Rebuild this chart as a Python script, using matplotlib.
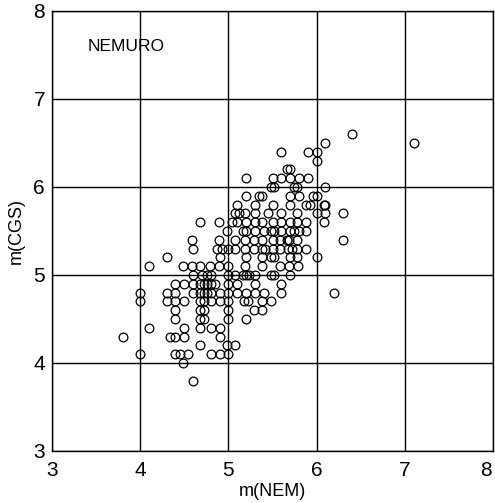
import matplotlib
matplotlib.use("Agg")
import matplotlib.pyplot as plt
import matplotlib.transforms as mtransforms

# magnitude levels on the CGS scale (rows of the scatter)
cgs_levels = [6.6, 6.5, 6.4, 6.3, 6.2, 6.1, 6.0, 5.9, 5.8, 5.7, 5.6, 5.5, 5.4, 5.3,
              5.2, 5.1, 5.0, 4.9, 4.8, 4.7, 4.6, 4.5, 4.4, 4.3, 4.2, 4.1, 4.0, 3.8]

# Nemuro magnitudes for the events at each CGS level
nem_by_level = [
    [6.4],
    [6.1, 7.1],
    [5.6, 5.9, 6.0],
    [6.0],
    [5.66, 5.7],
    [5.2, 5.5, 5.6, 5.7, 5.8, 5.9],
    [5.48, 5.52, 5.74, 5.78, 6.1],
    [5.2, 5.35, 5.38, 5.7, 5.8, 5.96, 6.0],
    [5.1, 5.3, 5.5, 5.7, 5.88, 5.92, 6.08, 6.1],
    [5.08, 5.12, 5.19, 5.3, 5.45, 5.6, 5.78, 6.0, 6.1, 6.3],
    [4.68, 4.89, 5.04, 5.1, 5.2, 5.3, 5.38, 5.5, 5.6, 5.7, 5.78, 5.88, 6.08],
    [4.98, 5.17, 5.2, 5.3, 5.4, 5.48, 5.52, 5.6, 5.7, 5.74, 5.8, 5.88],
    [4.59, 4.89, 5.08, 5.19, 5.29, 5.38, 5.5, 5.59, 5.66, 5.69, 5.78, 6.3],
    [4.6, 4.87, 4.93, 5.0, 5.08, 5.19, 5.29, 5.38, 5.42, 5.5, 5.59, 5.68, 5.72, 5.78, 5.88],
    [4.3, 4.9, 5.2, 5.38, 5.48, 5.52, 5.7, 5.78, 6.0],
    [4.1, 4.48, 4.59, 4.68, 4.79, 4.89, 5.0, 5.19, 5.38, 5.59, 5.69, 5.79],
    [4.6, 4.7, 4.76, 4.8, 5.0, 5.08, 5.17, 5.2, 5.23, 5.3, 5.48, 5.52, 5.7],
    [4.4, 4.5, 4.6, 4.68, 4.72, 4.76, 4.8, 4.85, 5.0, 5.1, 5.3, 5.6],
    [4.0, 4.3, 4.4, 4.6, 4.68, 4.72, 4.76, 4.8, 4.9, 5.0, 5.1, 5.2, 5.3, 5.4, 5.6, 6.2],
    [4.0, 4.3, 4.4, 4.5, 4.68, 4.72, 4.8, 4.9, 5.0, 5.18, 5.22, 5.38, 5.48],
    [4.4, 4.68, 4.72, 5.0, 5.29, 5.38],
    [4.4, 4.68, 4.72, 5.0, 5.2],
    [4.1, 4.5, 4.68, 4.8, 4.9],
    [3.8, 4.34, 4.39, 4.5, 4.9],
    [4.68, 4.98, 5.08],
    [4.0, 4.4, 4.45, 4.54, 4.8, 4.9, 5.0],
    [4.49],
    [4.6],
]

ticks = [3, 4, 5, 6, 7, 8]

m_nem = []
m_cgs = []
for level, xs in zip(cgs_levels, nem_by_level):
    m_nem += xs
    m_cgs += [level] * len(xs)

plt.rcParams['font.family'] = ['Liberation Sans', 'DejaVu Sans']

fig = plt.figure(figsize=(4.95, 5.03), dpi=100)
ax = fig.add_axes([52 / 495, 52 / 503, 441 / 495, 440 / 503])

ax.plot(m_nem, m_cgs, 'o', ms=6.3, mfc='none', mec='black', mew=0.9, zorder=3)

ax.set_xlim(3, 8)
ax.set_ylim(3, 8)
ax.set_xticks(ticks)
ax.set_yticks(ticks)
ax.grid(True, color='black', lw=1.0)
ax.set_axisbelow(True)
for s in ax.spines.values():
    s.set_linewidth(1.0)
ax.tick_params(length=0, labelsize=15)
ax.tick_params(axis='x', pad=7)
ax.tick_params(axis='y', pad=5)

# pull the last x label in so it stays inside the figure
last = ax.get_xticklabels()[-1]
last.set_transform(last.get_transform() +
                   mtransforms.ScaledTranslation(-5 / 72, 0, fig.dpi_scale_trans))

ax.set_xlabel('m(NEM)', fontsize=13, labelpad=2)
ax.set_ylabel('m(CGS)', fontsize=13, labelpad=6)
ax.text(3.4, 7.6, 'NEMURO', fontsize=12.5, va='center', ha='left')

fig.savefig('out.png', dpi=100)
